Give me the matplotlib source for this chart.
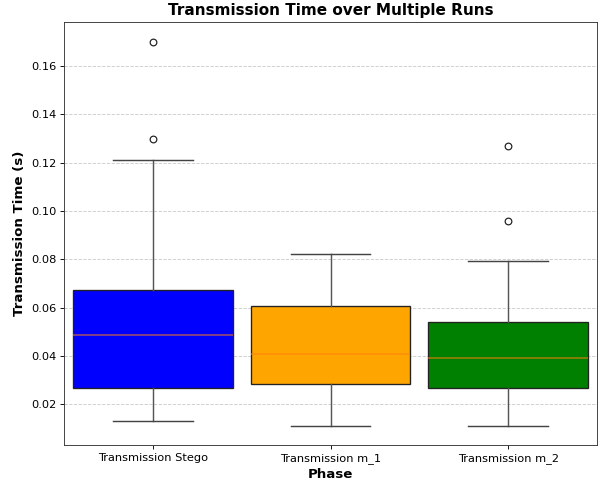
import matplotlib
matplotlib.use("Agg")
import matplotlib.pyplot as plt

phases = ["Transmission Stego", "Transmission m_1", "Transmission m_2"]
colors = ["blue", "orange", "green"]
q1 = [0.0269, 0.0285, 0.0266]
med = [0.0487, 0.0407, 0.0393]
q3 = [0.0674, 0.0608, 0.0541]
whislo = [0.0131, 0.0109, 0.0109]
whishi = [0.1212, 0.0823, 0.0792]
fliers = [[0.1701, 0.1298], [], [0.1270, 0.0959]]

stats = []
for i, name in enumerate(phases):
    stats.append(dict(label=name, q1=q1[i], med=med[i], q3=q3[i],
                      whislo=whislo[i], whishi=whishi[i], fliers=fliers[i]))

DPI = 80
fig = plt.figure(figsize=(598/DPI, 482/DPI), dpi=DPI)
ax = fig.add_axes([64/598, (482-445.3)/482, (597-64)/598, (445.3-22)/482])

bp = ax.bxp(stats, positions=range(len(phases)), widths=0.9, patch_artist=True,
            boxprops=dict(edgecolor="#222222", linewidth=1.2),
            whiskerprops=dict(color="#555555", linewidth=1.3),
            capprops=dict(color="#444444", linewidth=1.3),
            medianprops=dict(color="#ff7f0e", linewidth=1.5, alpha=0.6),
            flierprops=dict(marker="o", markerfacecolor="none", markeredgecolor="#222222",
                            markersize=6, markeredgewidth=1.1))
for patch, c in zip(bp["boxes"], colors):
    patch.set_facecolor(c)

ax.set_xlim(-0.5, 2.5)
ax.set_ylim(0.0030, 0.1782)
ax.set_yticks([0.02, 0.04, 0.06, 0.08, 0.10, 0.12, 0.14, 0.16])
ax.set_xticks(range(len(phases)))
ax.set_xticklabels(phases)
ax.tick_params(labelsize=10.2)
ax.yaxis.grid(True, linestyle="--", color="#cccccc", linewidth=0.8)
ax.set_axisbelow(True)
for s in ax.spines.values():
    s.set_color("#333333")

ax.set_title("Transmission Time over Multiple Runs", fontsize=13.75, fontweight="bold")
ax.set_xlabel("Phase", fontsize=12, fontweight="bold")
ax.set_ylabel("Transmission Time (s)", fontsize=12, fontweight="bold")

fig.savefig("out.png", dpi=DPI)
